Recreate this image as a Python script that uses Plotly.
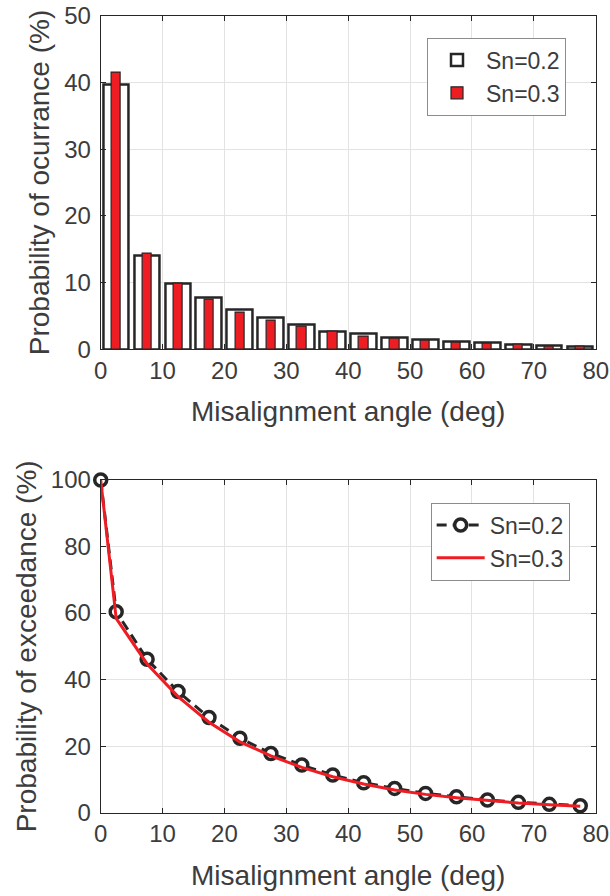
import plotly.graph_objects as go

# ---- data ----
bin_centers = [2.5, 7.5, 12.5, 17.5, 22.5, 27.5, 32.5, 37.5, 42.5, 47.5,
               52.5, 57.5, 62.5, 67.5, 72.5, 77.5]
occ_sn02 = [39.7, 14.1, 9.9, 7.8, 6.0, 4.7, 3.7, 2.7, 2.3, 1.8, 1.4, 1.15, 1.0, 0.7, 0.55, 0.45]
occ_sn03 = [41.5, 14.3, 9.85, 7.5, 5.55, 4.3, 3.45, 2.65, 1.95, 1.6, 1.3, 1.05, 0.9, 0.65, 0.4, 0.35]

exc_x = [0, 2.5, 7.5, 12.5, 17.5, 22.5, 27.5, 32.5, 37.5, 42.5, 47.5,
         52.5, 57.5, 62.5, 67.5, 72.5, 77.5]
exc_sn02 = [100, 60.4, 46.1, 36.4, 28.6, 22.4, 17.8, 14.3, 11.3, 9.0, 7.3, 5.8, 4.8, 3.8, 3.1, 2.5, 2.1]
exc_sn03 = [100, 58.4, 44.7, 34.9, 27.2, 21.3, 17.1, 13.6, 10.8, 8.6, 6.8, 5.5, 4.5, 3.7, 2.9, 2.4, 1.9]

x_ticks = [0, 10, 20, 30, 40, 50, 60, 70, 80]
y_ticks_top = [0, 10, 20, 30, 40, 50]
y_ticks_bot = [0, 20, 40, 60, 80, 100]

labels = ["Sn=0.2", "Sn=0.3"]

RED = "#EE1D23"
DARK = "#262626"
TXT = "#3c3c3c"
GRID = "#e3e3e3"
FONT = "Liberation Sans, Arial, sans-serif"

fig = go.Figure()

fig.add_trace(go.Bar(
    x=bin_centers, y=occ_sn02, width=[4.15] * len(bin_centers),
    marker=dict(color="white", line=dict(color=DARK, width=2.5)),
    name=labels[0], xaxis="x", yaxis="y", legend="legend"))
fig.add_trace(go.Bar(
    x=bin_centers, y=occ_sn03, width=[1.5] * len(bin_centers),
    marker=dict(color=RED, line=dict(color=DARK, width=1.2)),
    name=labels[1], xaxis="x", yaxis="y", legend="legend"))

fig.add_trace(go.Scatter(
    x=exc_x, y=exc_sn02, mode="lines+markers", cliponaxis=False,
    line=dict(color=DARK, width=3, dash="10px,6px"),
    marker=dict(symbol="circle", size=12, color="white", line=dict(color=DARK, width=3.5)),
    name=labels[0], xaxis="x2", yaxis="y2", legend="legend2"))
fig.add_trace(go.Scatter(
    x=exc_x, y=exc_sn03, mode="lines", cliponaxis=False,
    line=dict(color=RED, width=3),
    name=labels[1], xaxis="x2", yaxis="y2", legend="legend2"))

def xaxis(domain_anchor):
    return dict(
        range=[0, 80], tickvals=x_ticks, ticks="inside", ticklen=5,
        tickcolor=DARK, showline=True, linecolor=DARK, linewidth=1,
        mirror="ticks", showgrid=True, gridcolor=GRID, gridwidth=1,
        zeroline=False, automargin=False,
        tickfont=dict(size=24, color=TXT, family=FONT),
        title=dict(text="Misalignment angle (deg)",
                   font=dict(size=28, color=TXT, family=FONT), standoff=18),
        anchor=domain_anchor, domain=[0.1651, 0.9766])

def yaxis(rng, ticks, title, domain, anchor):
    return dict(
        range=rng, tickvals=ticks, ticks="inside", ticklen=5,
        tickcolor=DARK, showline=True, linecolor=DARK, linewidth=1,
        mirror="ticks", showgrid=True, gridcolor=GRID, gridwidth=1,
        zeroline=False, automargin=False, ticklabelstandoff=4,
        tickfont=dict(size=24, color=TXT, family=FONT),
        title=dict(text=title, font=dict(size=28, color=TXT, family=FONT), standoff=6),
        anchor=anchor, domain=domain)

fig.update_layout(
    width=610, height=896,
    margin=dict(l=0, r=0, t=0, b=0, autoexpand=False),
    paper_bgcolor="white", plot_bgcolor="white",
    barmode="overlay", bargap=0,
    font=dict(family=FONT, color=TXT),
    xaxis=xaxis("y"),
    yaxis=yaxis([0, 50], y_ticks_top, "Probability of ocurrance (%)", [0.6102, 0.9825], "x"),
    xaxis2=xaxis("y2"),
    yaxis2=yaxis([0, 100], y_ticks_bot, "Probability of exceedance (%)", [0.0930, 0.4643], "x2"),
    legend=dict(x=0.700, y=1 - 37.5 / 896, xanchor="left", yanchor="top",
                bgcolor="white", bordercolor="#8c8c8c", borderwidth=1,
                font=dict(size=23, color=TXT, family=FONT),
                itemwidth=48, tracegroupgap=0),
    legend2=dict(x=0.706, y=1 - 502.5 / 896, xanchor="left", yanchor="top",
                 bgcolor="white", bordercolor="#8c8c8c", borderwidth=1,
                 font=dict(size=23, color=TXT, family=FONT),
                 itemwidth=48, tracegroupgap=0),
    showlegend=True,
)

fig.write_html("out.html")
